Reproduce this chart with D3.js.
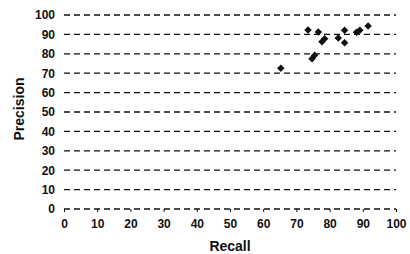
<!DOCTYPE html>
<html>
<head>
<meta charset="utf-8">
<script src="https://cdn.jsdelivr.net/npm/d3@7"></script>
<style>
  body { margin: 0; background: #fff; }
  text { font-family: "Liberation Sans", Arial, sans-serif; font-weight: bold; fill: #111; }
</style>
</head>
<body>
<svg width="410" height="254"></svg>
<script>
var recall    = [65.3, 73.5, 76.6, 77.7, 78.5, 74.7, 75.5, 82.6, 84.5, 84.5, 88.1, 89.1, 91.6];
var precision = [72.5, 92.3, 91.2, 86.2, 87.8, 77.5, 79.2, 88.1, 92.1, 85.7, 91.1, 92.1, 94.3];
var xTicks = [0, 10, 20, 30, 40, 50, 60, 70, 80, 90, 100];
var yTicks = [0, 10, 20, 30, 40, 50, 60, 70, 80, 90, 100];

var points = recall.map(function(r, i) { return { r: r, p: precision[i] }; });

var svg = d3.select("svg");
var x = d3.scaleLinear().domain([0, 100]).range([64, 396]);
var y = d3.scaleLinear().domain([0, 100]).range([209, 15]);

// dashed gridlines
svg.append("g")
    .selectAll("line")
    .data(yTicks)
    .enter()
    .append("line")
    .attr("x1", x(0))
    .attr("x2", x(100))
    .attr("y1", function(d) { return y(d); })
    .attr("y2", function(d) { return y(d); })
    .attr("stroke", "#111")
    .attr("stroke-width", 1.3)
    .attr("stroke-dasharray", "6,4");

// y axis labels
var yAxis = svg.append("g")
    .attr("transform", "translate(" + (x(0) - 9) + ",0)")
    .call(d3.axisLeft(y).tickValues(yTicks).tickSize(0).tickPadding(0));
yAxis.select(".domain").remove();
yAxis.selectAll("text").style("font-size", "12px");

// x axis with small ticks
var xAxis = svg.append("g")
    .attr("transform", "translate(0," + y(0) + ")")
    .call(d3.axisBottom(x).tickValues(xTicks).tickSize(3).tickPadding(7));
xAxis.select(".domain").remove();
xAxis.selectAll("line").attr("stroke", "#111");
xAxis.selectAll("text").style("font-size", "12px");

// points
svg.append("g")
    .selectAll("path")
    .data(points)
    .enter()
    .append("path")
    .attr("d", d3.symbol().type(d3.symbolSquare).size(28))
    .attr("transform", function(d) { return "translate(" + x(d.r) + "," + y(d.p) + ") rotate(45)"; })
    .attr("fill", "#111");

// axis titles
svg.append("text")
    .attr("x", 230)
    .attr("y", 251)
    .attr("text-anchor", "middle")
    .style("font-size", "14px")
    .text("Recall");

svg.append("text")
    .attr("transform", "translate(24,109) rotate(-90)")
    .attr("text-anchor", "middle")
    .style("font-size", "14px")
    .text("Precision");
</script>
</body>
</html>
